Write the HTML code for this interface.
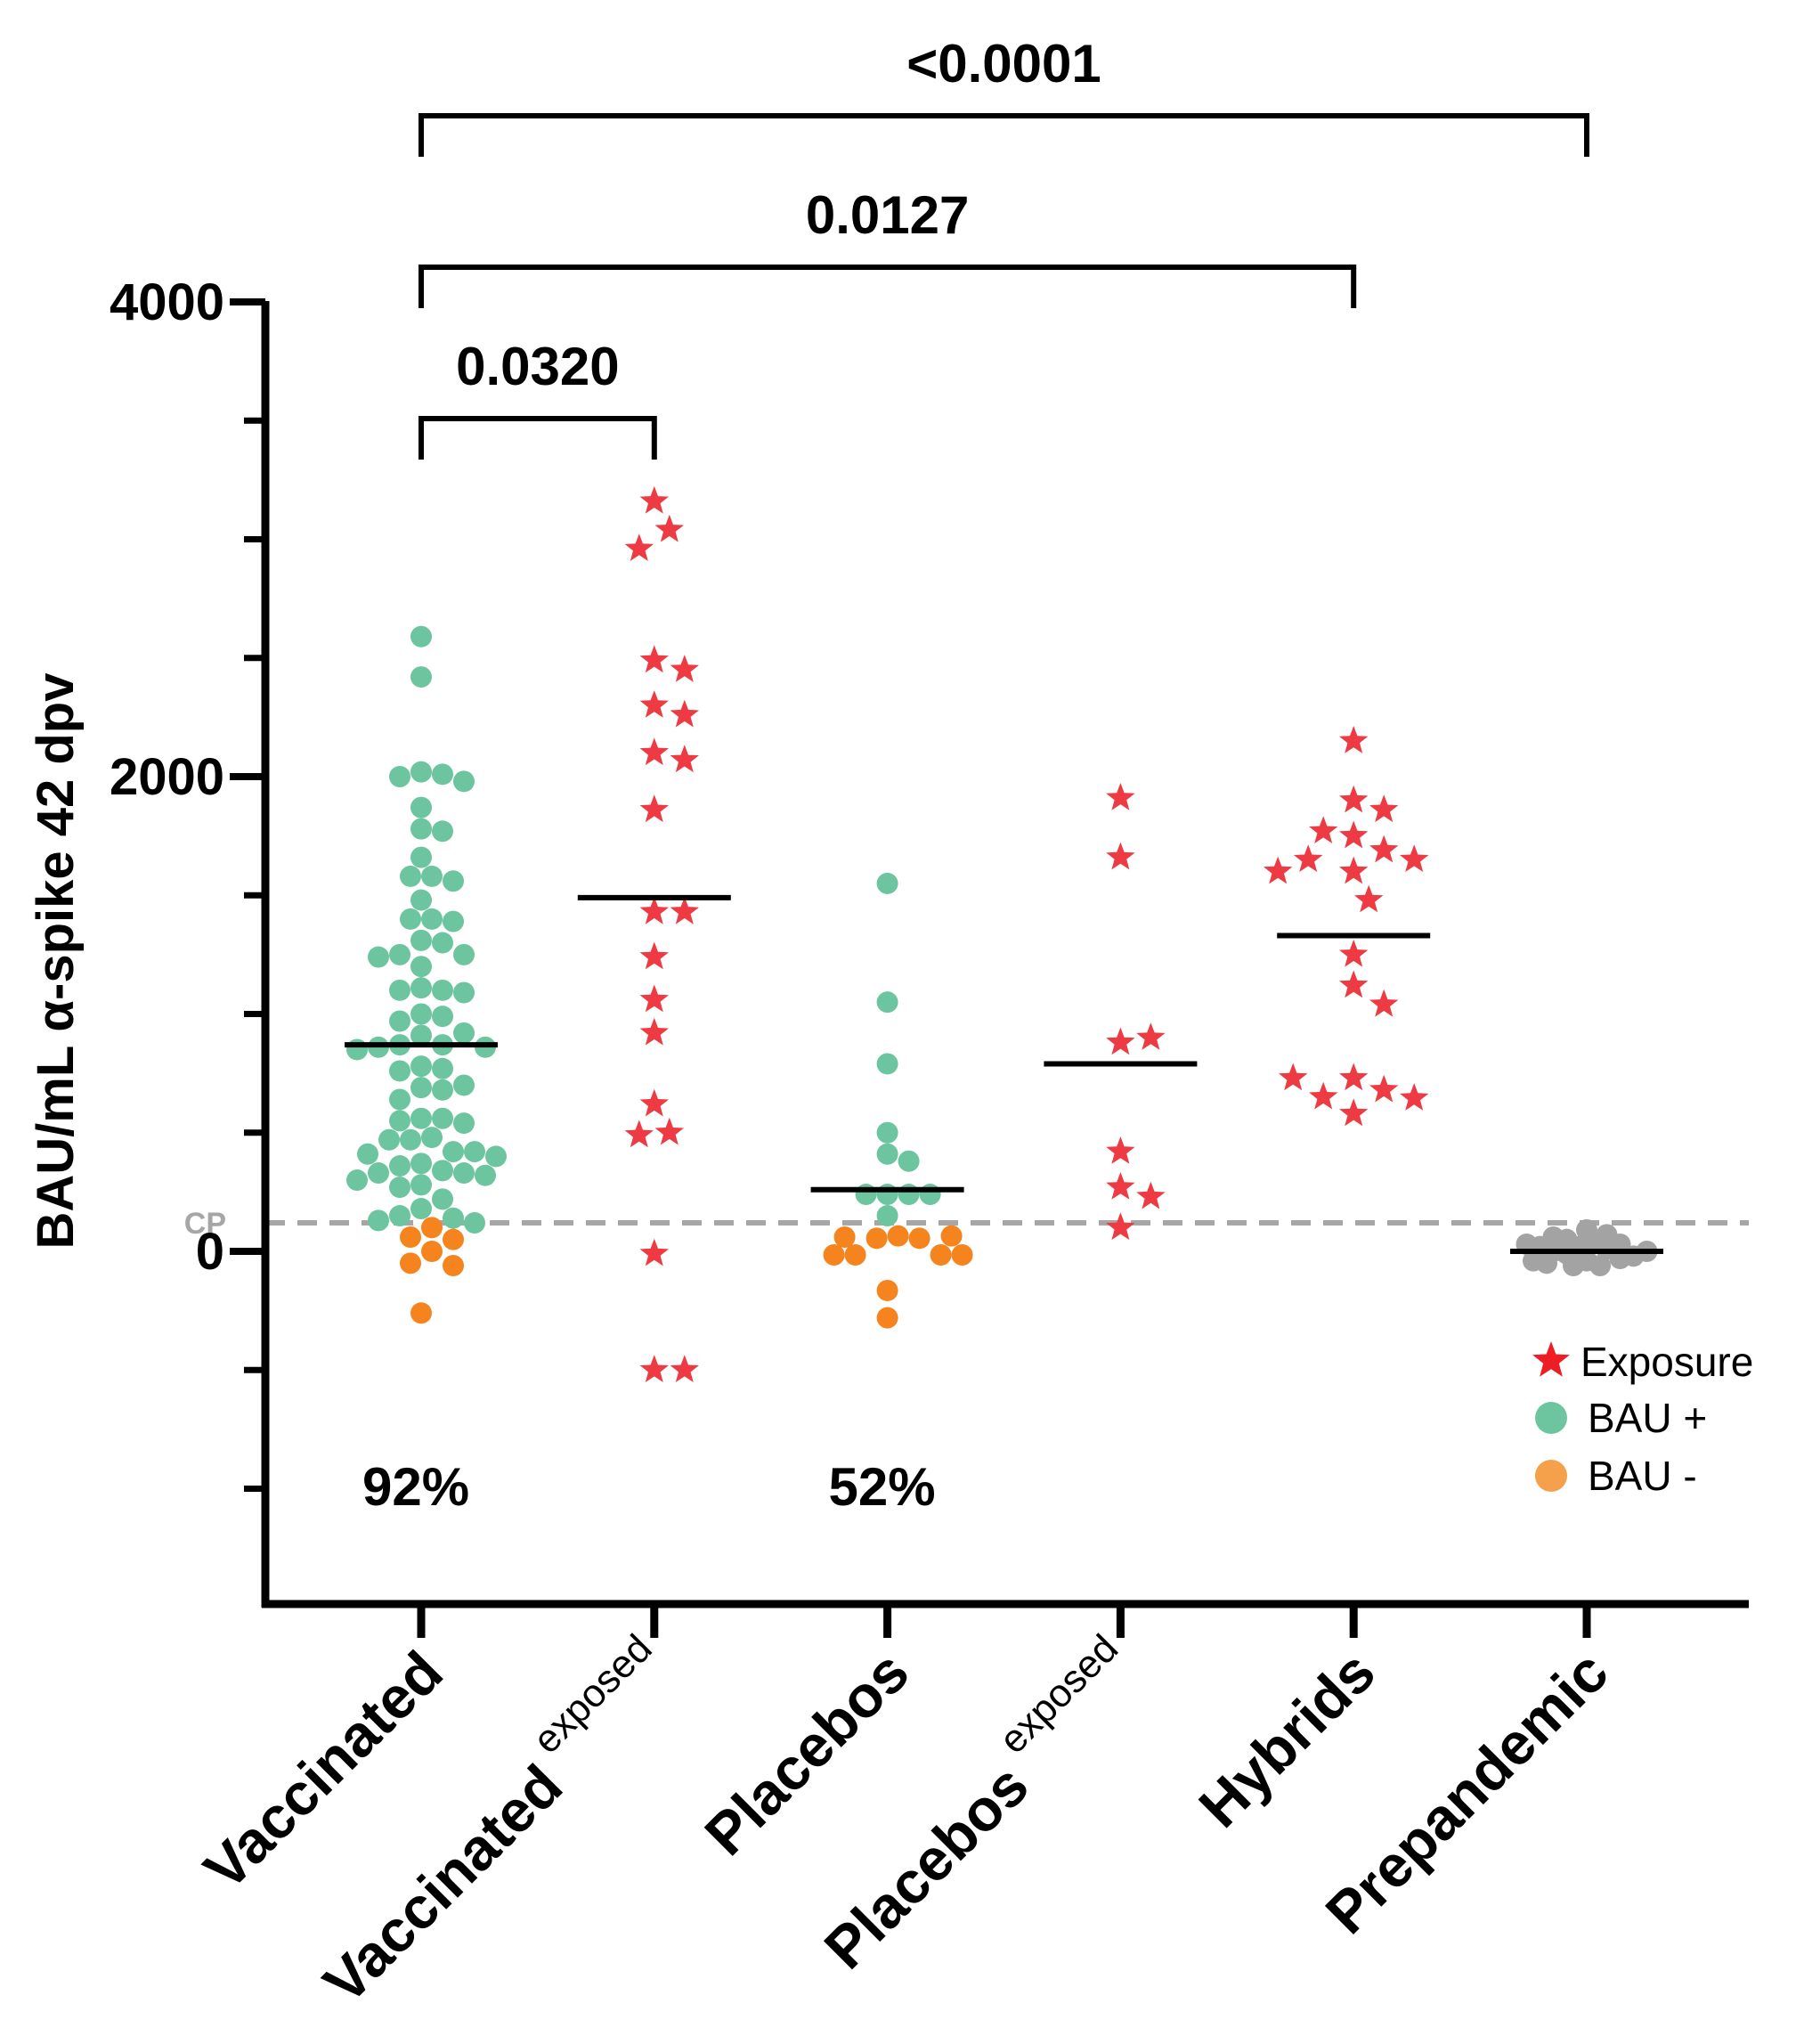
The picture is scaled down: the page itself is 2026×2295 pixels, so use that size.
<!DOCTYPE html>
<html><head><meta charset="utf-8"><style>
html,body{margin:0;padding:0;background:#fff}
svg{display:block;font-family:"Liberation Sans",sans-serif}
</style></head><body>
<svg id="chart" width="2026" height="2295" viewBox="0 0 2026 2295" xmlns="http://www.w3.org/2000/svg"></svg>
<script>
const categories=["Vaccinated","Vaccinated exposed","Placebos","Placebos exposed","Hybrids","Prepandemic"];
const yTicks=[4000,2000,0];
const vaccPos=[2590,2420,2020,2010,2000,1980,1870,1780,1770,1660,1580,1580,1560,1480,1400,1400,1390,1310,1300,1250,1250,1240,1200,1110,1100,1100,1090,1000,990,970,920,910,870,870,860,860,850,780,770,760,700,690,680,640,560,560,550,540,480,470,470,420,420,410,400,370,360,340,330,330,320,300,280,270,220,180,150,140,130,120];
const vaccNeg=[100,60,50,0,-50,-60,-260];
const vaccExp=[3160,3040,2960,2490,2450,2300,2260,2100,2070,1860,1430,1430,1240,1060,920,620,500,490,-10,-500,-500];
const placPos=[1550,1050,790,500,410,380,240,240,240,240,150];
const placNeg=[65,55,55,-15,-15,-15,-15,60,65,-165,-280];
const placExp=[1910,1660,880,900,420,270,230,100];
const hybrids=[2150,1900,1860,1750,1770,1690,1650,1650,1600,1600,1480,1250,1120,1040,730,680,650,645,730,580];
const prepan=[90,40,20,10,-10,-40,-60,50,30,0,-30,-50,60,-20,20,-60,70,-40,0,30];
const medians=[870,1490,260,790,1330,0];
const brackets=[["<0.0001",0,5],["0.0127",0,4],["0.0320",0,1]];
const pcts=[["92%",0],["52%",2]];

const NS="http://www.w3.org/2000/svg";
const svg=document.getElementById('chart');
const X0=298,X1=1964,Y0=1801;
function yS(v){return 1405-(v/2000)*533;}
function xS(i){return 473+i*261.8;}
function mk(tag,attrs,parent){const e=document.createElementNS(NS,tag);for(const k in attrs)e.setAttribute(k,attrs[k]);(parent||svg).appendChild(e);return e;}

const cp=mk('line',{x1:X0,x2:X1,y1:yS(120),y2:yS(120),stroke:'#a6a6a6','stroke-width':6,'stroke-dasharray':'22 14'});


const cpt=mk('text',{x:254,y:yS(120)+12,'text-anchor':'end','font-size':34,'font-weight':'bold',fill:'#a6a6a6'});
cpt.textContent='CP';



const ya=mk('line',{x1:X0,x2:X0,y1:338,y2:Y0+4,stroke:'#000','stroke-width':9});


const xa=mk('line',{x1:X0-4,x2:X1,y1:Y0,y2:Y0,stroke:'#000','stroke-width':9});


for(let v=4000;v>=-1000;v-=500){
  const major=yTicks.includes(v);
  const t=mk('line',{x1:major?X0-40:X0-24,x2:X0,y1:yS(v),y2:yS(v),stroke:'#000','stroke-width':major?8:7});
  
  
}
yTicks.forEach(v=>{
  const t=mk('text',{x:252,y:yS(v)+20,'text-anchor':'end','font-size':58,'font-weight':'bold'});
  t.textContent=v;
  
  
});
const yt=mk('text',{x:0,y:0,'text-anchor':'middle','font-size':58,'font-weight':'bold',transform:'translate(82,1079) rotate(-90)'});
yt.textContent='BAU/mL α-spike 42 dpv';



categories.forEach((c,i)=>{
  const t=mk('line',{x1:xS(i),x2:xS(i),y1:Y0,y2:Y0+38,stroke:'#000','stroke-width':9});
  
  
  const ax=xS(i)+28, ay=1882;
  const tx=mk('text',{x:0,y:0,'text-anchor':'end','font-size':66,'font-weight':'bold',transform:`translate(${ax},${ay}) rotate(-45)`});
  if(c.endsWith(' exposed')){
    const main=mk('tspan',{},tx);main.textContent=c.replace(' exposed','');
    const sup=mk('tspan',{dy:-40,dx:14,'font-weight':'normal','font-size':44},tx);sup.textContent='exposed';
  } else tx.textContent=c;
  
  
});

const bY=[130,300,470];
brackets.forEach((b,k)=>{
  const xa1=xS(b[1]),xa2=xS(b[2]),y=bY[k];
  const p=mk('path',{d:`M${xa1},${y+46} V${y} H${xa2} V${y+46}`,fill:'none',stroke:'#000','stroke-width':6});
  
  
  const t=mk('text',{x:(xa1+xa2)/2,y:y-38,'text-anchor':'middle','font-size':60,'font-weight':'bold'});
  t.textContent=b[0];
  
  
});

function swarm(vals,sp){
  const placed=[];const out=[];
  vals.forEach(v=>{
    const y=yS(v);
    let best=0;
    for(let k=0;k<60;k++){
      const cands=k===0?[0]:[k*sp/2,-k*sp/2];
      let ok=null;
      for(const dx of cands){
        if(placed.every(p=>(p[0]-dx)**2+(p[1]-y)**2>=sp*sp*0.9)){ok=dx;break;}
      }
      if(ok!==null){best=ok;break;}
    }
    placed.push([best,y]);out.push([best,y]);
  });
  return out;
}
function starPath(cx,cy,R){
  let d='';for(let i=0;i<10;i++){const r=i%2?R*0.42:R;const a=-Math.PI/2+i*Math.PI/5;d+=(i?'L':'M')+(cx+r*Math.cos(a)).toFixed(1)+','+(cy+r*Math.sin(a)).toFixed(1);}
  return d+'Z';
}
function dots(groupIdx,pos,neg,color,negColor,name,sp){
  const all=pos.map(v=>[v,color]).concat(neg.map(v=>[v,negColor]));
  const coords=swarm(all.map(a=>a[0]),sp);
  coords.forEach((c,j)=>{
    const e=mk('circle',{cx:xS(groupIdx)+c[0],cy:c[1],r:12,fill:all[j][1]});
    
    
  });
}
function stars(groupIdx,vals,name){
  const coords=swarm(vals,34);
  coords.forEach(c=>{
    const e=mk('path',{d:starPath(xS(groupIdx)+c[0],c[1],17),fill:'#ee3a43'});
    
    
  });
}
dots(0,vaccPos,vaccNeg,'#6cc59e','#f5841f','vaccinated',24);
stars(1,vaccExp,'vaccinated-exposed');
dots(2,placPos,placNeg,'#6cc59e','#f5841f','placebos',24);
stars(3,placExp,'placebos-exposed');
stars(4,hybrids,'hybrids');
dots(5,prepan,[],'#a3a3a3','#a3a3a3','prepandemic',15);

medians.forEach((m,i)=>{
  const l=mk('line',{x1:xS(i)-86,x2:xS(i)+86,y1:yS(m),y2:yS(m),stroke:'#000','stroke-width':6});
  
  
});

pcts.forEach(p=>{
  const t=mk('text',{x:xS(p[1])-6,y:1690,'text-anchor':'middle','font-size':60,'font-weight':'bold'});
  t.textContent=p[0];
  
  
});

const lg=mk('g',{});


const ls=mk('path',{d:starPath(1742,1528,22),fill:'#ee1c25'},lg);


const lc1=mk('circle',{cx:1742,cy:1592,r:18,fill:'#6cc59e'},lg);


const lc2=mk('circle',{cx:1742,cy:1657,r:18,fill:'#f5a04a'},lg);


[["Exposure",1545],["BAU +",1608],["BAU -",1673]].forEach((r,k)=>{
  const t=mk('text',{x:k===0?1775:1783,y:r[1],'font-size':46},lg);
  t.textContent=r[0];
  
  
});
</script>
</body></html>
